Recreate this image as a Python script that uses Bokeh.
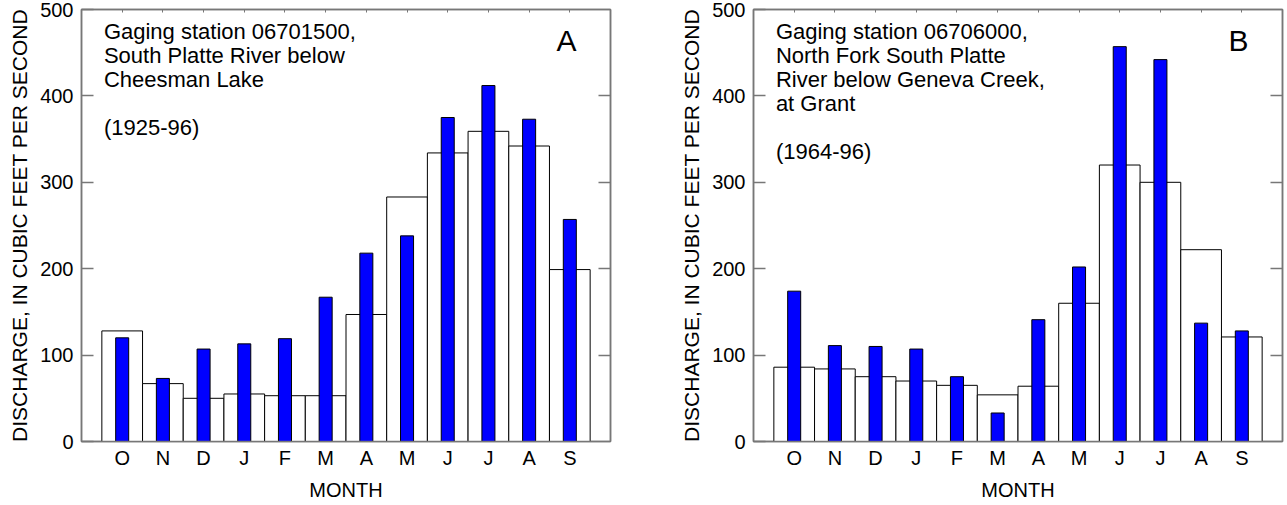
from bokeh.plotting import figure
from bokeh.models import Range1d, LinearAxis, FixedTicker, Label, CustomJSTickFormatter, ColumnDataSource
from bokeh.layouts import row
from bokeh.embed import file_html
from bokeh.resources import INLINE

# ---- data ----
months = ["O", "N", "D", "J", "F", "M", "A", "M", "J", "J", "A", "S"]
a_white = [128, 67, 50, 55, 53, 53, 147, 283, 334, 359, 342, 199]
a_blue = [120, 73, 107, 113, 119, 167, 218, 238, 375, 412, 373, 257]
b_white = [86, 84, 75, 70, 65, 54, 64, 160, 320, 300, 222, 121]
b_blue = [174, 111, 110, 107, 75, 33, 141, 202, 457, 442, 137, 128]
y_ticks = [0, 100, 200, 300, 400, 500]
a_note = ["Gaging station 06701500,", "South Platte River below", "Cheesman Lake", "", "(1925-96)"]
b_note = ["Gaging station 06706000,", "North Fork South Platte", "River below Geneva Creek,",
          "at Grant", "", "(1964-96)"]
y_label = "DISCHARGE, IN CUBIC FEET PER SECOND"
x_label = "MONTH"

FONT = "Liberation Sans"
GRAY = "#777777"
xs = list(range(1, len(months) + 1))


def panel(white, blue, note, letter, width, left, right):
    p = figure(width=width, height=503, x_range=Range1d(0, 13), y_range=Range1d(0, 500),
               output_backend="svg", toolbar_location=None,
               min_border_left=left, min_border_right=right,
               min_border_top=9, min_border_bottom=61)
    p.grid.visible = False
    p.outline_line_color = GRAY
    p.outline_line_width = 1.5
    p.background_fill_color = "white"
    p.border_fill_color = "white"

    src = ColumnDataSource(dict(x=xs, white=white, blue=blue))
    p.vbar(x="x", top="white", width=1.0, bottom=0, source=src,
           fill_color="white", line_color="black", line_width=1)
    p.vbar(x="x", top="blue", width=0.32, bottom=0, source=src,
           fill_color="#0000ff", line_color="black", line_width=1)

    # bottom axis
    xa = p.xaxis[0]
    xa.ticker = FixedTicker(ticks=xs)
    xa.major_label_overrides = {x: m for x, m in zip(xs, months)}
    xa.major_tick_in = 0
    xa.major_tick_out = 0
    xa.minor_tick_line_color = None
    xa.axis_line_color = GRAY
    xa.axis_line_width = 1.5
    xa.major_label_text_font = FONT
    xa.major_label_text_font_size = "20px"
    xa.major_label_text_color = "black"
    xa.major_label_standoff = 5
    xa.axis_label = x_label
    xa.axis_label_text_font = FONT
    xa.axis_label_text_font_size = "20px"
    xa.axis_label_text_font_style = "normal"
    xa.axis_label_text_color = "black"
    xa.axis_label_standoff = 7

    # left axis
    ya = p.yaxis[0]
    ya.ticker = FixedTicker(ticks=y_ticks, minor_ticks=[])
    ya.major_tick_in = 12
    ya.major_tick_out = 0
    ya.major_tick_line_color = GRAY
    ya.major_tick_line_width = 1.5
    ya.axis_line_color = GRAY
    ya.axis_line_width = 1.5
    ya.major_label_text_font = FONT
    ya.major_label_text_font_size = "20px"
    ya.major_label_text_color = "black"
    ya.major_label_standoff = 8
    ya.axis_label = y_label
    ya.axis_label_text_font = FONT
    ya.axis_label_text_font_size = "21px"
    ya.axis_label_text_font_style = "normal"
    ya.axis_label_text_color = "black"
    ya.axis_label_standoff = 6

    empty = CustomJSTickFormatter(code="return ''")
    ra = LinearAxis(ticker=FixedTicker(ticks=y_ticks[1:-1], minor_ticks=[]), formatter=empty,
                    major_tick_in=12, major_tick_out=0, major_tick_line_color=GRAY,
                    major_tick_line_width=1.5, axis_line_color=GRAY, axis_line_width=1.5,
                    major_label_text_font_size="0px", major_label_standoff=0)
    p.add_layout(ra, "right")
    ta = LinearAxis(ticker=FixedTicker(ticks=xs, minor_ticks=[]), formatter=empty,
                    major_tick_in=3, major_tick_out=0, major_tick_line_color=GRAY,
                    axis_line_color=GRAY, axis_line_width=1.5,
                    major_label_text_font_size="0px", major_label_standoff=0)
    p.add_layout(ta, "above")

    # station annotation
    for i, line in enumerate(note):
        if line:
            p.add_layout(Label(x=0.55, y=474.5 - i * 27.7, text=line, text_font=FONT,
                               text_font_size="22px", text_color="black",
                               text_baseline="alphabetic", text_align="left"))
    p.add_layout(Label(x=11.67, y=464, text=letter, text_font=FONT, text_font_size="30px",
                       text_color="black", text_baseline="alphabetic", text_align="left"))
    return p


pa = panel(a_white, a_blue, a_note, "A", 640, 81, 30)
pb = panel(b_white, b_blue, b_note, "B", 646, 113, 4)
layout = row(pa, pb)

open("out.html", "w").write(file_html(layout, INLINE))
